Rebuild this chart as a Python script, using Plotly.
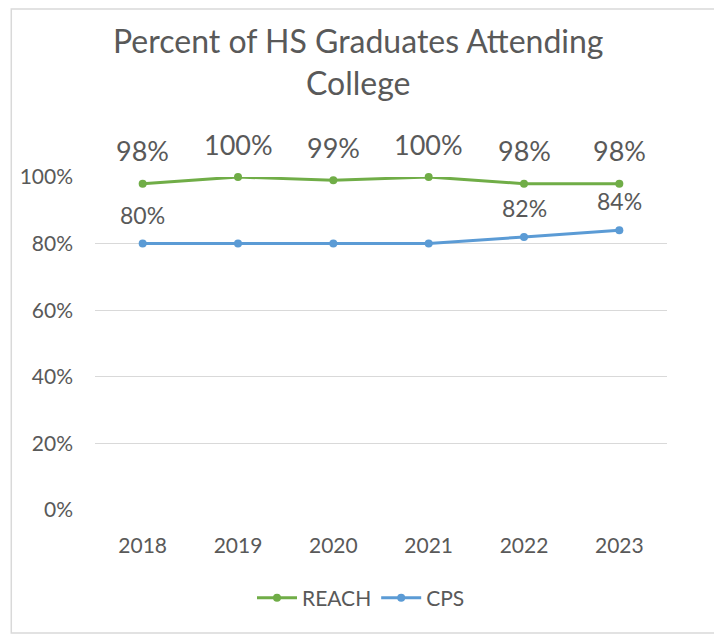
import plotly.graph_objects as go

years = ["2018", "2019", "2020", "2021", "2022", "2023"]
reach = [0.98, 1.00, 0.99, 1.00, 0.98, 0.98]
cps = [0.80, 0.80, 0.80, 0.80, 0.82, 0.84]
cps_labeled = [True, False, False, False, True, True]

GREEN = "#70AD47"
BLUE = "#5B9BD5"
TXT = "#595959"
FONT = "Lato"

W, H = 722, 635
OFF = 8  # page body margin offset of the figure
ML, MR, MT, MB = 85, 63, 169, 133
PW, PH = W - ML - MR, H - MT - MB

xi = list(range(len(years)))

fig = go.Figure()
fig.add_trace(go.Scatter(x=xi, y=reach, name="REACH", mode="lines+markers",
                         line=dict(color=GREEN, width=3), marker=dict(size=8, color=GREEN),
                         cliponaxis=False))
fig.add_trace(go.Scatter(x=xi, y=cps, name="CPS", mode="lines+markers",
                         line=dict(color=BLUE, width=3), marker=dict(size=8, color=BLUE),
                         cliponaxis=False))

def px_x(p):
    return (p - OFF - ML) / PW

def px_y(p):
    return (H - MB - (p - OFF)) / PH

ann = []
for x, y in zip(xi, reach):
    ann.append(dict(x=x, y=y, xref="x", yref="y", text=f"{round(y*100)}%", showarrow=False,
                    yshift=33, font=dict(size=27, color=TXT, family=FONT)))
for x, y, show in zip(xi, cps, cps_labeled):
    if show:
        ann.append(dict(x=x, y=y, xref="x", yref="y", text=f"{round(y*100)}%", showarrow=False,
                        yshift=29, font=dict(size=23, color=TXT, family=FONT)))

ann.append(dict(text="Percent of HS Graduates Attending<br>College", xref="paper", yref="paper",
                x=px_x(357), y=px_y(62), xanchor="center", yanchor="middle", showarrow=False,
                font=dict(size=32, color=TXT, family=FONT)))

fig.add_shape(type="rect", xref="paper", yref="paper",
              x0=px_x(9), x1=px_x(720), y0=px_y(633), y1=px_y(9),
              line=dict(color="#D9D9D9", width=1.5), fillcolor="rgba(0,0,0,0)", layer="below")

fig.update_layout(
    width=W, height=H,
    margin=dict(l=ML, r=MR, t=MT, b=MB),
    paper_bgcolor="white", plot_bgcolor="white",
    font=dict(family=FONT, color=TXT, size=21),
    annotations=ann,
    showlegend=True,
    legend=dict(orientation="h", x=(361 - OFF) / W, xref="container", xanchor="center",
                y=(H - (598 - OFF)) / H, yref="container", yanchor="middle",
                font=dict(size=21, color=TXT, family=FONT), itemwidth=40),
    xaxis=dict(range=[-0.5, len(years) - 0.5], tickvals=xi, ticktext=years,
               showgrid=False, showline=False, zeroline=False, ticks="",
               tickfont=dict(size=21, color=TXT), ticklabelstandoff=21),
    yaxis=dict(range=[0, 1], dtick=0.2, tickformat=".0%", showgrid=True,
               gridcolor="#D9D9D9", gridwidth=1, zeroline=False, showline=False,
               tickfont=dict(size=21, color=TXT), ticklabelstandoff=21),
)

fig.write_html("out.html")
